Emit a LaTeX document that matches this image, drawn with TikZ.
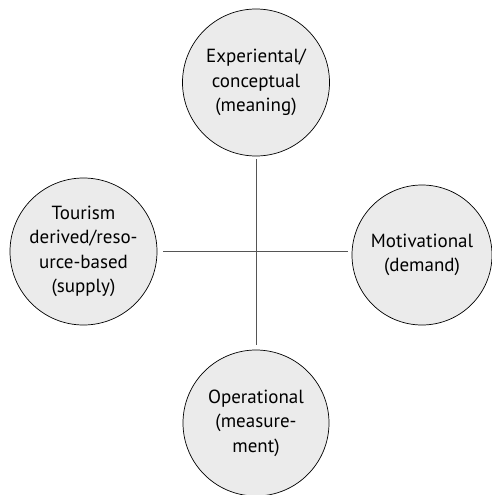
\documentclass[tikz,border=0pt]{standalone}
\usepackage{fontspec}
\setmainfont{PT Sans}
\definecolor{circfill}{HTML}{EBEBEB}
\definecolor{linegray}{HTML}{555555}

\begin{document}
\begin{tikzpicture}[x=1pt,y=-1pt,
    viewpoint/.style={circle, draw=black, line width=0.7pt, fill=circfill, inner sep=0pt,
        align=center, font=\fontsize{19}{24.5}\selectfont},
    axis/.style={draw=linegray, line width=0.8pt}]
    % Rahmen
    \useasboundingbox (0,0) rectangle (492,495);
    % die vier Kreise
    \node[viewpoint, minimum size=147pt] (top) at (256,82.5) {Experiental/\\conceptual\\(meaning)};
    \node[viewpoint, minimum size=147pt] (left) at (83.5,251.5) {Tourism\\derived/reso-\\urce-based\\(supply)};
    \node[viewpoint, minimum size=140pt] (right) at (422,255) {Motivational\\(demand)};
    \node[viewpoint, minimum size=146pt] (bottom) at (256,423) {Operational\\(measure-\\ment)};
    % Achsen
    \draw[axis, shorten <=3pt, shorten >=5pt] (top.south) -- (bottom.north);
    \draw[axis, shorten <=6pt, shorten >=4pt] (left.east) -- (left.east -| right.west);
\end{tikzpicture}
\end{document}
